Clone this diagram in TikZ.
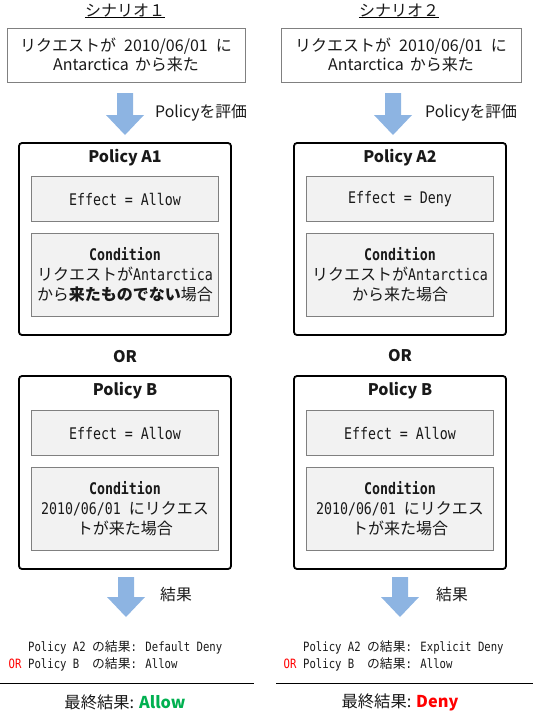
\documentclass[tikz,border=0pt]{standalone}
\usepackage{fontspec}
\setmainfont{Noto Sans CJK JP}
\newfontfamily\jpfont{Noto Sans CJK JP}
\newfontfamily\monofont[FakeStretch=0.83]{DejaVu Sans Mono}
\usetikzlibrary{positioning, calc}
\definecolor{arrowBlue}{RGB}{141,180,226}
\definecolor{panelFill}{RGB}{242,242,242}
\definecolor{panelEdge}{RGB}{128,128,128}
\definecolor{allowGreen}{RGB}{0,176,80}
\definecolor{denyRed}{RGB}{255,0,0}
\definecolor{textDark}{RGB}{25,25,25}

\newcommand{\jp}[1]{{\jpfont #1}}
\newcommand{\reqtext}{リクエストが\hspace{8pt}2010/06/01\hspace{8pt}に\\Antarctica\hspace{6pt}から来た}

\tikzset{
    scentitle/.style={inner sep=0pt, font=\fontsize{16}{19}\selectfont},
    reqbox/.style={draw=panelEdge, line width=0.8pt, minimum width=238pt,
        minimum height=54pt, inner sep=0pt, align=center,
        font=\fontsize{16}{19.5}\selectfont},
    policybox/.style={draw=black, line width=1.8pt, rounded corners=3pt,
        minimum width=212pt, inner sep=0pt},
    policytitle/.style={inner sep=0pt, font=\bfseries\fontsize{16}{19}\selectfont},
    effectbox/.style={draw=panelEdge, fill=panelFill, line width=0.8pt,
        minimum width=187pt, minimum height=45pt, inner sep=0pt,
        font=\monofont\fontsize{16}{19}\selectfont},
    condbox/.style={effectbox, minimum height=83pt, align=center,
        font=\monofont\fontsize{16}{20}\selectfont},
    steplabel/.style={anchor=west, inner sep=0pt, font=\fontsize{15.8}{19}\selectfont},
    resline/.style={anchor=west, inner sep=0pt, font=\monofont\fontsize{12.8}{15}\selectfont},
    finallabel/.style={inner sep=0pt, font=\fontsize{16.3}{19}\selectfont},
}

\begin{document}
\begin{tikzpicture}[x=1pt, y=-1pt, every node/.style={text=textDark}]
% Canvas: x in [0, 533], y in [0, 721], y grows downward
\useasboundingbox (0,0) rectangle (533,721);

% --- Scenario titles (underlined) ---
\node[scentitle] (titleL) at (125,11) {シナリオ１};
\node[scentitle] (titleR) at (399,11) {シナリオ２};
\foreach \t in {titleL, titleR} {
    \draw[black, line width=0.7pt] (\t.south west) -- (\t.south east);
}

% --- Incoming request ---
\node[reqbox] (reqL) at (126,55) {\reqtext};
\node[reqbox, minimum width=240pt] (reqR) at (401,55) {\reqtext};

% --- Block arrows: evaluate / result ---
\foreach \cx/\ya/\yb in {125/93/135, 393/93/135, 126/577/617, 400/577/617} {
    \fill[arrowBlue] (\cx-8,\ya) -- (\cx+8,\ya) -- (\cx+8,\yb-20) -- (\cx+19,\yb-20)
        -- (\cx,\yb) -- (\cx-19,\yb-20) -- (\cx-8,\yb-20) -- cycle;
}
\node[steplabel] (evalL) at (155,113) {Policyを評価};
\node[steplabel] (evalR) at (425,113) {Policyを評価};
\node[steplabel] (resultL) at (160,595) {結果};
\node[steplabel] (resultR) at (436,595) {結果};

% --- Scenario 1: Policy A1 ---
\node[policybox, minimum height=192pt] (polA1) at (125,239) {};
\node[policytitle] (polA1title) at (125,158) {Policy A1};
\node[effectbox] (effA1) at (125,199) {Effect = Allow};
\node[condbox] (condA1) at (125,274.5)
    {\textbf{Condition}\\\jp{リクエストが}Antarctica\\\jp{から\textbf{来たものでない}場合}};

% --- Scenario 2: Policy A2 ---
\node[policybox, minimum height=192pt] (polA2) at (400,239) {};
\node[policytitle] (polA2title) at (400,158) {Policy A2};
\node[effectbox] (effA2) at (400,199) {Effect = Deny};
\node[condbox] (condA2) at (400,274.5)
    {\textbf{Condition}\\\jp{リクエストが}Antarctica\\\jp{から来た場合}};

\node[policytitle] (orL) at (125,357) {OR};
\node[policytitle] (orR) at (400,356) {OR};

% --- Policy B (both scenarios) ---
\node[policybox, minimum height=193pt] (polBL) at (125,472.5) {};
\node[policytitle] (polBLtitle) at (125,391) {Policy B};
\node[effectbox] (effBL) at (125,433) {Effect = Allow};
\node[condbox] (condBL) at (125,508.5)
    {\textbf{Condition}\\2010/06/01 \jp{にリクエス}\\\jp{トが来た場合}};

\node[policybox, minimum height=193pt] (polBR) at (400,472.5) {};
\node[policytitle] (polBRtitle) at (400,391) {Policy B};
\node[effectbox] (effBR) at (400,433) {Effect = Allow};
\node[condbox] (condBR) at (400,508.5)
    {\textbf{Condition}\\2010/06/01 \jp{にリクエス}\\\jp{トが来た場合}};

% --- Combined results ---
\node[resline] (resL1) at (28,647) {Policy A2 \jp{の結果}: Default Deny};
\node[resline] (resL2) at (28,664) {Policy B\ \ \jp{の結果}: Allow};
\node[resline, text=denyRed, left=6.4pt of resL2.west] (orResL) {OR};

\node[resline] (resR1) at (303,647) {Policy A2 \jp{の結果}: Explicit Deny};
\node[resline] (resR2) at (303,664) {Policy B\ \ \jp{の結果}: Allow};
\node[resline, text=denyRed, left=6.4pt of resR2.west] (orResR) {OR};

\draw[black, line width=0.8pt] (0,683) -- (254,683);
\draw[black, line width=0.8pt] (276,683) -- (533,683);

% --- Final verdicts ---
\node[finallabel] (finalL) at (125,702) {最終結果: \textbf{\color{allowGreen}Allow}};
\node[finallabel] (finalR) at (400,702) {最終結果: \textbf{\color{denyRed}Deny}};

\end{tikzpicture}
\end{document}
